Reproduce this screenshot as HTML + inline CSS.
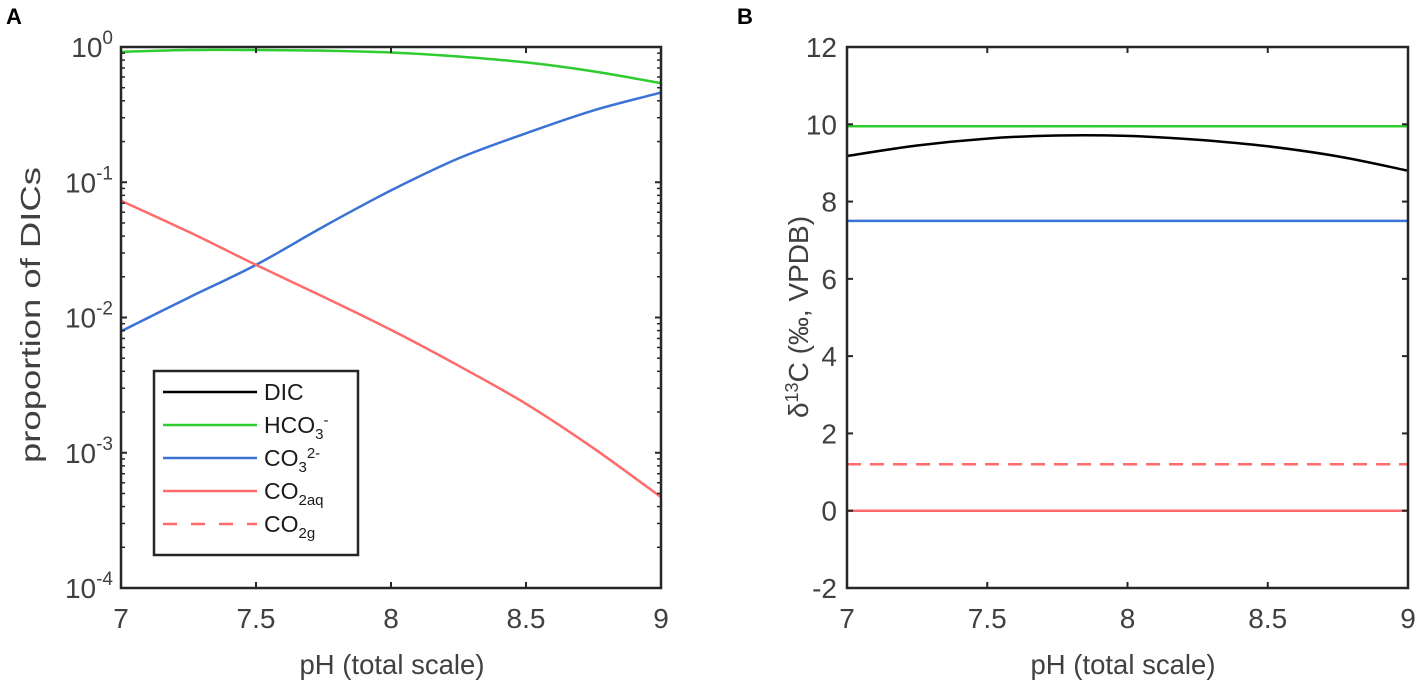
<!DOCTYPE html>
<html><head><meta charset="utf-8"><style>
body{margin:0;background:#fff;}
svg{font-family:"Liberation Sans",sans-serif;}
</style></head><body>
<svg id="c" width="1417" height="694" xmlns="http://www.w3.org/2000/svg"></svg>
<script>
const ph=[7,7.25,7.5,7.75,8,8.25,8.5,8.75,9];
const hco3=[0.92,0.95,0.95,0.94,0.91,0.85,0.77,0.66,0.54];
const co3=[0.0079,0.014,0.0245,0.047,0.087,0.15,0.23,0.34,0.46];
const co2aq=[0.073,0.043,0.0245,0.0142,0.0081,0.0044,0.0023,0.00108,0.00047];
const d13Dic=[9.18,9.45,9.63,9.71,9.7,9.6,9.43,9.17,8.8];
const d13Hco3=[9.95,9.95,9.95,9.95,9.95,9.95,9.95,9.95,9.95];
const d13Co3=[7.5,7.5,7.5,7.5,7.5,7.5,7.5,7.5,7.5];
const d13Co2aq=[0,0,0,0,0,0,0,0,0];
const d13Co2g=[1.2,1.2,1.2,1.2,1.2,1.2,1.2,1.2,1.2];
const xTicks=[7,7.5,8,8.5,9];
const yTicksA=[0,-1,-2,-3,-4];
const yTicksB=[-2,0,2,4,6,8,10,12];

const NS="http://www.w3.org/2000/svg";
const svg=document.getElementById('c');
function el(t,a,p){const e=document.createElementNS(NS,t);for(const k in a)e.setAttribute(k,a[k]);(p||svg).appendChild(e);return e;}
const GREEN='#2ecc2e',BLUE='#3a72d6',RED='#ff6b6b',TXT='#404040';
const yTop=47,yBot=588;
const A={l:121,r:661},B={l:847,r:1408};
const xA=v=>A.l+(v-7)/2*(A.r-A.l);
const xB=v=>B.l+(v-7)/2*(B.r-B.l);
const yA=v=>yTop+(-Math.log10(v))/4*(yBot-yTop);
const yB=v=>yBot-(v+2)/14*(yBot-yTop);

function smoothPath(P){
  let d='M'+P[0][0].toFixed(1)+' '+P[0][1].toFixed(1);
  for(let i=0;i<P.length-1;i++){
    const p0=P[Math.max(0,i-1)],p1=P[i],p2=P[i+1],p3=P[Math.min(P.length-1,i+2)];
    const c1=[p1[0]+(p2[0]-p0[0])/6,p1[1]+(p2[1]-p0[1])/6];
    const c2=[p2[0]-(p3[0]-p1[0])/6,p2[1]-(p3[1]-p1[1])/6];
    d+=' C'+c1.map(v=>v.toFixed(1)).join(' ')+' '+c2.map(v=>v.toFixed(1)).join(' ')+' '+p2[0].toFixed(1)+' '+p2[1].toFixed(1);
  }
  return d;
}
function line(xs,ys,fx,fy,col,name,dash){
  const P=xs.map((x,i)=>[fx(x),fy(ys[i])]);
  const p=el('path',{d:smoothPath(P),fill:'none',stroke:col,'stroke-width':2.5});
  if(dash)p.setAttribute('stroke-dasharray','14 9');
  
  
}
function text(x,y,s,size,anchor,name,extra){
  const t=el('text',Object.assign({x:x,y:y,'font-size':size,fill:TXT,'text-anchor':anchor},extra||{}));
  t.innerHTML=s;
  
  
  return t;
}
line(ph,hco3,xA,yA,GREEN,'hco3-line-a');
line(ph,co3,xA,yA,BLUE,'co3-line-a');
line(ph,co2aq,xA,yA,RED,'co2aq-line-a');
line(ph,d13Hco3,xB,yB,GREEN,'hco3-line-b');
line(ph,d13Dic,xB,yB,'#000','dic-line-b');
line(ph,d13Co3,xB,yB,BLUE,'co3-line-b');
line(ph,d13Co2g,xB,yB,RED,'co2g-line-b',true);
line(ph,d13Co2aq,xB,yB,RED,'co2aq-line-b');

function frame(P,name){
  const r=el('rect',{x:P.l,y:yTop,width:P.r-P.l,height:yBot-yTop,fill:'none',stroke:'#262626','stroke-width':2.5});
  
  
}
frame(A,'plot-frame-a');frame(B,'plot-frame-b');
xTicks.forEach(v=>{
  [[xA,'a'],[xB,'b']].forEach(([f,s])=>{
    el('line',{x1:f(v),x2:f(v),y1:yBot,y2:yBot-6,stroke:'#262626','stroke-width':2});
    el('line',{x1:f(v),x2:f(v),y1:yTop,y2:yTop+6,stroke:'#262626','stroke-width':2});
    text(f(v),628,String(v),28,'middle','x-tick-label-'+s);
  });
});
yTicksA.forEach(e=>{
  const y=yA(Math.pow(10,e));
  el('line',{x1:A.l,x2:A.l+6,y1:y,y2:y,stroke:'#262626','stroke-width':2});
  el('line',{x1:A.r,x2:A.r-6,y1:y,y2:y,stroke:'#262626','stroke-width':2});
  text(A.l-8,y+10,'10<tspan dy="-13" font-size="19">'+e+'</tspan>',28,'end','y-tick-label-a');
  if(e<0){for(let m=2;m<=9;m++){const ym=yA(m*Math.pow(10,e));
    el('line',{x1:A.l,x2:A.l+4,y1:ym,y2:ym,stroke:'#262626','stroke-width':1.5});
    el('line',{x1:A.r,x2:A.r-4,y1:ym,y2:ym,stroke:'#262626','stroke-width':1.5});}}
});
yTicksB.forEach(v=>{
  const y=yB(v);
  el('line',{x1:B.l,x2:B.l+6,y1:y,y2:y,stroke:'#262626','stroke-width':2});
  el('line',{x1:B.r,x2:B.r-6,y1:y,y2:y,stroke:'#262626','stroke-width':2});
  text(B.l-10,y+10,String(v),28,'end','y-tick-label-b');
});
text(392,674,'pH (total scale)',28,'middle','x-axis-title-a',{textLength:185,lengthAdjust:'spacingAndGlyphs'});
text(1123,674,'pH (total scale)',28,'middle','x-axis-title-b',{textLength:185,lengthAdjust:'spacingAndGlyphs'});
text(40,315,'proportion of DICs',28,'middle','y-axis-title-a',{transform:'rotate(-90 40 315)',textLength:296,lengthAdjust:'spacingAndGlyphs'});
text(808,317,'δ<tspan dy="-10" font-size="18">13</tspan><tspan dy="10">C (‰, VPDB)</tspan>',28,'middle','y-axis-title-b',{transform:'rotate(-90 808 317)'});
const pa=el('text',{x:6,y:24,'font-size':22,'font-weight':'bold',fill:'#000'});pa.textContent='A';

const pb=el('text',{x:737,y:24,'font-size':22,'font-weight':'bold',fill:'#000'});pb.textContent='B';

const lg=el('g',{});


el('rect',{x:154,y:371,width:204,height:184,fill:'#fff',stroke:'#262626','stroke-width':2.5},lg);
const items=[['DIC','#000',0,'dic'],['HCO<tspan dy="6" font-size="15">3</tspan><tspan dy="-14" font-size="15">-</tspan>',GREEN,0,'hco3'],
['CO<tspan dy="6" font-size="15">3</tspan><tspan dy="-14" font-size="15">2-</tspan>',BLUE,0,'co3'],
['CO<tspan dy="6" font-size="15">2aq</tspan>',RED,0,'co2aq'],['CO<tspan dy="6" font-size="15">2g</tspan>',RED,1,'co2g']];
items.forEach((it,i)=>{
  const y=392+i*33;
  const g=el('g',{},lg);
  
  
  const l=el('line',{x1:163,x2:257,y1:y,y2:y,stroke:it[1],'stroke-width':2.5},g);
  if(it[2])l.setAttribute('stroke-dasharray','14 14');
  const t=el('text',{x:264,y:y+8,'font-size':23,fill:'#1a1a1a'},g);t.innerHTML=it[0];
});
</script>
</body></html>
